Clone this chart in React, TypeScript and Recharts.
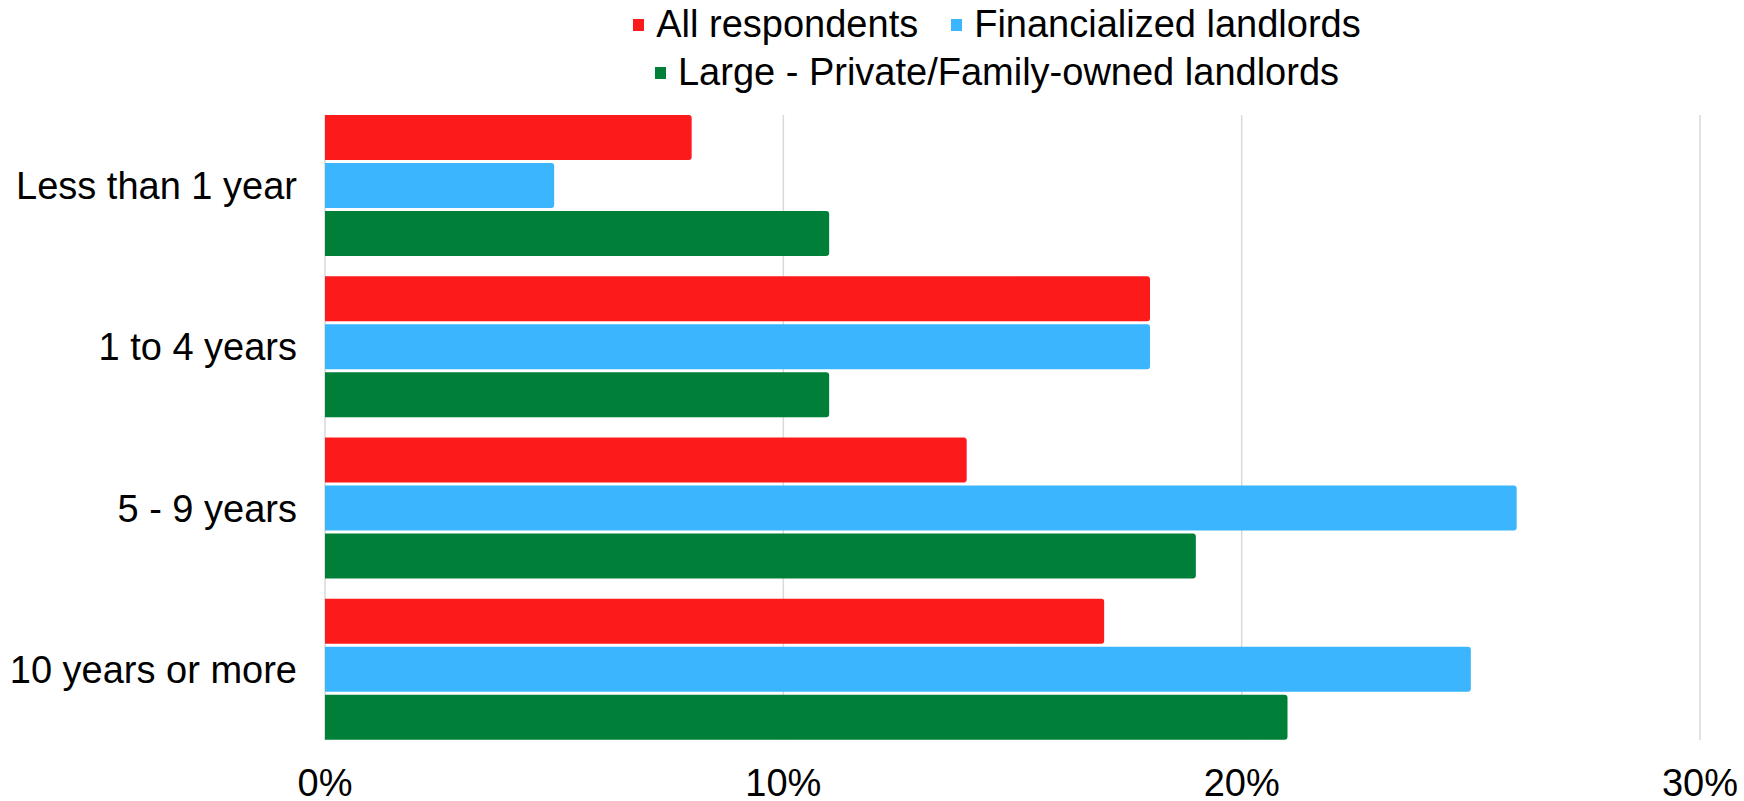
import React from 'react';
import {
  BarChart,
  Bar,
  XAxis,
  YAxis,
  CartesianGrid,
  Legend,
} from 'recharts';

const categories = ['Less than 1 year', '1 to 4 years', '5 - 9 years', '10 years or more'];
const allRespondents = [8, 18, 14, 17];
const financialized = [5, 18, 26, 25];
const largePrivate = [11, 11, 19, 21];
const xTicks = [0, 10, 20, 30];

const seriesNames = ['All respondents', 'Financialized landlords', 'Large - Private/Family-owned landlords'];
const colors = ['#fd1a1a', '#3ab5fe', '#007f38'];

const data = categories.map((cat, i) => ({
  cat,
  a: allRespondents[i],
  f: financialized[i],
  l: largePrivate[i],
}));

const FONT = '"Liberation Sans", Arial, sans-serif';

function LegendContent({ payload }: any) {
  return (
    <div
      style={{
        display: 'flex',
        flexWrap: 'wrap',
        justifyContent: 'center',
        columnGap: 33,
        fontFamily: FONT,
        fontSize: 38,
        color: '#000',
      }}
    >
      {(payload || []).map((p: any) => (
        <div key={p.value} style={{ display: 'flex', alignItems: 'center', height: 48 }}>
          <span style={{ width: 11, height: 12, background: p.color, marginRight: 12, marginTop: 2 }} />
          <span>{p.value}</span>
        </div>
      ))}
    </div>
  );
}

export default function App() {
  return (
    <div style={{ position: 'absolute', left: 0, top: 0, background: '#fff' }}>
      <BarChart
        width={1744}
        height={801}
        data={data}
        layout="vertical"
        margin={{ top: 115, right: 44, left: 0, bottom: 0 }}
        barCategoryGap={10}
        barGap={3}
      >
        <CartesianGrid horizontal={false} stroke="#d9d9d9" strokeWidth={1.5} />
        <XAxis
          type="number"
          domain={[0, 30]}
          ticks={xTicks}
          tickFormatter={(v: number) => `${v}%`}
          axisLine={false}
          tickLine={false}
          tickSize={0}
          tickMargin={29}
          height={61}
          tick={{ fill: '#000', fontSize: 38, fontFamily: FONT }}
        />
        <YAxis
          type="category"
          dataKey="cat"
          width={325}
          axisLine={false}
          tickLine={false}
          tickSize={0}
          tickMargin={28}
          padding={{ top: -10, bottom: -10 }}
          tick={{ fill: '#000', fontSize: 38, fontFamily: FONT }}
        />
        <Legend
          verticalAlign="middle"
          align="center"
          wrapperStyle={{ top: 0, left: 612, width: 770 }}
          content={<LegendContent />}
        />
        <Bar dataKey="a" name={seriesNames[0]} fill={colors[0]} radius={[0, 3, 3, 0]} isAnimationActive={false} />
        <Bar dataKey="f" name={seriesNames[1]} fill={colors[1]} radius={[0, 3, 3, 0]} isAnimationActive={false} />
        <Bar dataKey="l" name={seriesNames[2]} fill={colors[2]} radius={[0, 3, 3, 0]} isAnimationActive={false} />
      </BarChart>
    </div>
  );
}
